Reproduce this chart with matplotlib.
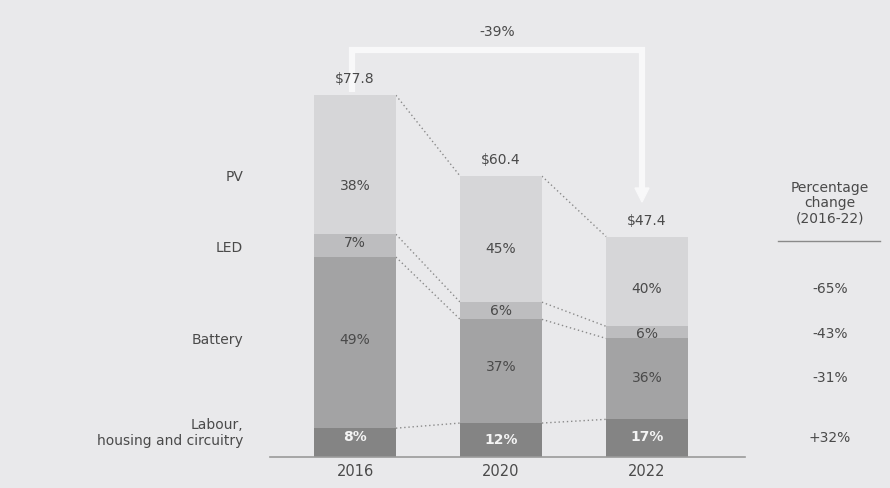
import matplotlib
matplotlib.use("Agg")
import matplotlib.pyplot as plt
import numpy as np

# ---- data ----
years = ["2016", "2020", "2022"]
totals = [77.8, 60.4, 47.4]
labour = [6.2, 7.3, 8.1]
battery = [36.8, 22.3, 17.4]
led = [4.9, 3.7, 2.6]
pv = [29.9, 27.1, 19.3]
components = ["Labour,\nhousing and circuitry", "Battery", "LED", "PV"]
share_labour = ["8%", "12%", "17%"]
share_battery = ["49%", "37%", "36%"]
share_led = ["7%", "6%", "6%"]
share_pv = ["38%", "45%", "40%"]
pct_change = ["-65%", "-43%", "-31%", "+32%"]  # PV, LED, Battery, Labour
total_change = "-39%"

# ---- figure ----
W, H = 890, 488
fig = plt.figure(figsize=(W / 100, H / 100), dpi=100)
bg = "#e9e9eb"
fig.patch.set_facecolor(bg)
ax = fig.add_axes([0, 0, 1, 1])
ax.set_facecolor(bg)

X0, XS = 355.0, 146.0   # pixel of x=0, pixels per unit
Y0, YS = 457.0, 4.65    # pixel of baseline, pixels per dollar
ax.set_xlim(-X0 / XS, (W - X0) / XS)
ax.set_ylim(-(H - Y0) / YS, Y0 / YS)
ax.axis("off")

def px(x):
    return (x - X0) / XS

def py(y):
    return (Y0 - y) / YS

FONT = "DejaVu Sans"
TC = "#4a4a4a"
FS = 10

x = np.arange(len(years))
bw = 0.56
cols = ["#848484", "#a3a3a4", "#bdbdbf", "#d6d6d8"]
series = [labour, battery, led, pv]
bottom = np.zeros(len(years))
tops = []
for vals, c in zip(series, cols):
    ax.bar(x, vals, bw, bottom=bottom, color=c, edgecolor="none", zorder=2)
    bottom = bottom + np.array(vals)
    tops.append(bottom.copy())

# dotted connectors between boundaries
for t in tops:
    for i in range(len(years) - 1):
        ax.plot([x[i] + bw / 2, x[i + 1] - bw / 2], [t[i], t[i + 1]],
                ls=(0, (1, 2)), color="#8a8a8a", lw=1.0, zorder=1)

# baseline
ax.plot([px(270), px(745)], [0, 0], color="#9a9a9a", lw=1.2, zorder=3)

# segment labels
lab_y_pv = [186, 249, 289]
lab_y_led = [243, 311, 334]
lab_y_bat = [340, 367, 378]
lab_y_lab = [437, 440, 437]
for i in range(len(years)):
    ax.text(x[i], py(lab_y_pv[i]), share_pv[i], ha="center", va="center",
            fontsize=FS, color=TC, family=FONT, zorder=4)
    ax.text(x[i], py(lab_y_led[i]), share_led[i], ha="center", va="center",
            fontsize=FS, color=TC, family=FONT, zorder=4)
    ax.text(x[i], py(lab_y_bat[i]), share_battery[i], ha="center", va="center",
            fontsize=FS, color=TC, family=FONT, zorder=4)
    ax.text(x[i], py(lab_y_lab[i]), share_labour[i], ha="center", va="center",
            fontsize=FS, color="#f4f4f4", family=FONT, fontweight="bold", zorder=4)
    ax.text(x[i], totals[i] + 9 / YS, f"${totals[i]:.1f}", ha="center", va="bottom",
            fontsize=FS, color=TC, family=FONT, zorder=4)
    ax.text(x[i], py(472), years[i], ha="center", va="center",
            fontsize=10.5, color=TC, family=FONT, zorder=4)

# left component labels
left_y = [433, 340, 248, 177]
for name, yy in zip(components, left_y):
    ax.text(px(243), py(yy), name, ha="right", va="center", multialignment="right",
            fontsize=FS, color=TC, family=FONT, linespacing=1.15)

# right column
ax.text(px(830), py(203), "Percentage\nchange\n(2016-22)", ha="center", va="center",
        fontsize=FS, color=TC, family=FONT, linespacing=1.1)
ax.plot([px(778), px(880)], [py(241), py(241)], color="#8a8a8a", lw=1.0)
right_y = [289, 334, 378, 438]
for s, yy in zip(pct_change, right_y):
    ax.text(px(830), py(yy), s, ha="center", va="center",
            fontsize=FS, color=TC, family=FONT)

# white bracket showing total change
wc = "#f8f8f9"
ax.plot([px(352), px(352), px(642), px(642)],
        [py(92), py(50), py(50), py(190)],
        color=wc, lw=4.5, solid_joinstyle="miter", solid_capstyle="butt", zorder=1.5)
ax.fill([px(635), px(649), px(642)], [py(188), py(188), py(202)],
        color=wc, zorder=1.5)
ax.text(px(497), py(32), total_change, ha="center", va="center",
        fontsize=FS, color=TC, family=FONT)

fig.savefig("out.png", dpi=100, facecolor=bg)
